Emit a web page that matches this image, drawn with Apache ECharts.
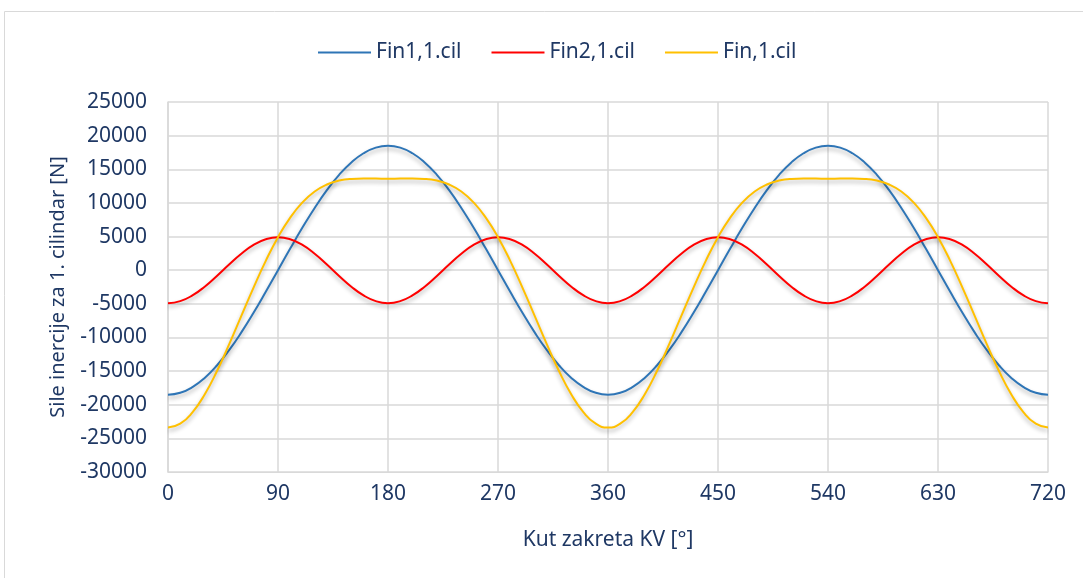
<!DOCTYPE html>
<html>
<head>
<meta charset="utf-8">
<script src="https://cdn.jsdelivr.net/npm/echarts@6/dist/echarts.min.js"></script>
<style>
  html, body { margin: 0; padding: 0; background: #fff; }
  #chart { width: 1083px; height: 578px; }
</style>
</head>
<body>
<div id="chart"></div>
<script>
// kut zakreta KV [°]
var angles = [0, 10, 20, 30, 40, 50, 60, 70, 80, 90, 100, 110, 120, 130, 140, 150, 160, 170, 180,
  190, 200, 210, 220, 230, 240, 250, 260, 270, 280, 290, 300, 310, 320, 330, 340, 350, 360,
  370, 380, 390, 400, 410, 420, 430, 440, 450, 460, 470, 480, 490, 500, 510, 520, 530, 540,
  550, 560, 570, 580, 590, 600, 610, 620, 630, 640, 650, 660, 670, 680, 690, 700, 710, 720];

var fin1 = [-18500, -18220, -17380, -16020, -14170, -11890, -9250, -6330, -3210, 0, 3210, 6330, 9250, 11890, 14170, 16020, 17380, 18220, 18500,
  18220, 17380, 16020, 14170, 11890, 9250, 6330, 3210, 0, -3210, -6330, -9250, -11890, -14170, -16020, -17380, -18220, -18500,
  -18220, -17380, -16020, -14170, -11890, -9250, -6330, -3210, 0, 3210, 6330, 9250, 11890, 14170, 16020, 17380, 18220, 18500,
  18220, 17380, 16020, 14170, 11890, 9250, 6330, 3210, 0, -3210, -6330, -9250, -11890, -14170, -16020, -17380, -18220, -18500];

var fin2 = [-4900, -4600, -3750, -2450, -850, 850, 2450, 3750, 4600, 4900, 4600, 3750, 2450, 850, -850, -2450, -3750, -4600, -4900,
  -4600, -3750, -2450, -850, 850, 2450, 3750, 4600, 4900, 4600, 3750, 2450, 850, -850, -2450, -3750, -4600, -4900,
  -4600, -3750, -2450, -850, 850, 2450, 3750, 4600, 4900, 4600, 3750, 2450, 850, -850, -2450, -3750, -4600, -4900,
  -4600, -3750, -2450, -850, 850, 2450, 3750, 4600, 4900, 4600, 3750, 2450, 850, -850, -2450, -3750, -4600, -4900];

var fin = [-23400, -22820, -21130, -18470, -15020, -11040, -6800, -2580, 1390, 4900, 7810, 10080, 11700, 12740, 13320, 13570, 13630, 13620, 13600,
  13620, 13630, 13570, 13320, 12740, 11700, 10080, 7810, 4900, 1390, -2580, -6800, -11040, -15020, -18470, -21130, -22820, -23400,
  -22820, -21130, -18470, -15020, -11040, -6800, -2580, 1390, 4900, 7810, 10080, 11700, 12740, 13320, 13570, 13630, 13620, 13600,
  13620, 13630, 13570, 13320, 12740, 11700, 10080, 7810, 4900, 1390, -2580, -6800, -11040, -15020, -18470, -21130, -22820, -23400];

var seriesNames = ['Fin1,1.cil', 'Fin2,1.cil', 'Fin,1.cil'];
var seriesColors = ['#2E75B6', '#FF0000', '#FFC000'];

var textColor = '#1F3864';
var fontFam = '"Noto Sans", sans-serif';

function pairs(vals) {
  return angles.map(function(a, i) { return [a, vals[i]]; });
}

var chart = echarts.init(document.getElementById('chart'));

var series = [fin1, fin2, fin].map(function(vals, i) {
  return {
    name: seriesNames[i],
    type: 'line',
    data: pairs(vals),
    smooth: true,
    showSymbol: false,
    symbol: 'none',
    lineStyle: {
      color: seriesColors[i],
      width: 2,
      shadowColor: 'rgba(0,0,0,0.3)',
      shadowBlur: 4,
      shadowOffsetY: 3
    },
    itemStyle: { color: seriesColors[i] }
  };
});

chart.setOption({
  animation: false,
  textStyle: { fontFamily: fontFam },
  graphic: [{
    type: 'rect',
    shape: { x: 4.5, y: 11.5, width: 1200, height: 700 },
    style: { fill: 'none', stroke: '#d9d9d9', lineWidth: 1 }
  }],
  legend: {
    top: 37,
    left: 313,
    itemWidth: 53,
    itemHeight: 2,
    itemGap: 30,
    icon: 'rect',
    data: seriesNames,
    textStyle: { color: textColor, fontSize: 21, fontFamily: fontFam }
  },
  grid: { left: 168, right: 35, top: 102, bottom: 106 },
  xAxis: {
    type: 'value',
    min: 0,
    max: 720,
    interval: 90,
    name: 'Kut zakreta KV [°]',
    nameLocation: 'middle',
    nameGap: 58,
    nameTextStyle: { color: textColor, fontSize: 21, fontFamily: fontFam },
    axisLine: { show: true, onZero: false, lineStyle: { color: '#d9d9d9', width: 1 } },
    axisTick: { show: false },
    axisLabel: { color: textColor, fontSize: 21, fontFamily: fontFam, margin: 12 },
    splitLine: { show: true, lineStyle: { color: '#d9d9d9', width: 1.5 } }
  },
  yAxis: {
    type: 'value',
    min: -30000,
    max: 25000,
    interval: 5000,
    name: 'Sile inercije za 1. cilindar [N]',
    nameLocation: 'middle',
    nameGap: 100,
    nameRotate: 90,
    nameTextStyle: { color: textColor, fontSize: 20, fontFamily: fontFam },
    axisLine: { show: true, lineStyle: { color: '#d9d9d9', width: 1.5 } },
    axisTick: { show: false },
    axisLabel: {
      color: textColor, fontSize: 21, fontFamily: fontFam, margin: 21,
      formatter: function(v) { return String(v); }
    },
    splitLine: { show: true, lineStyle: { color: '#d9d9d9', width: 1.5 } }
  },
  series: series
});
</script>
</body>
</html>
